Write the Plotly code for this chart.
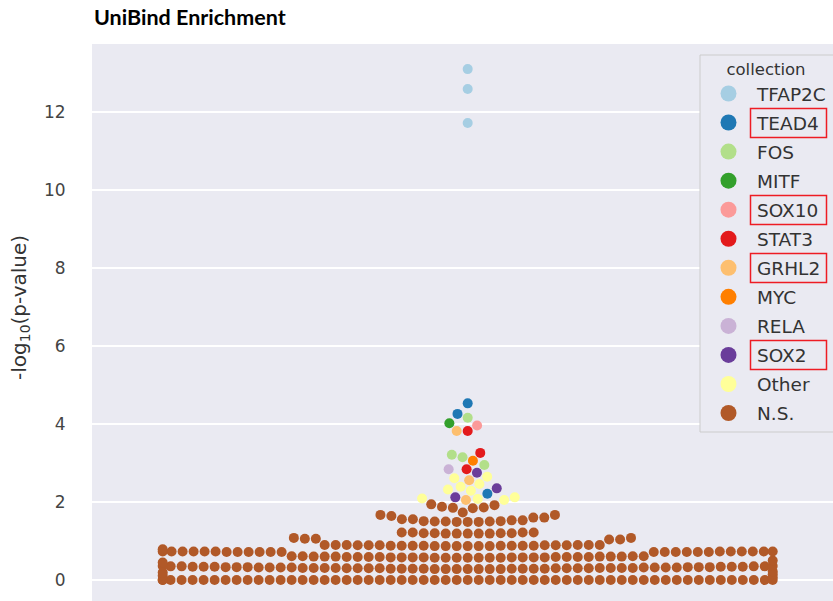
import numpy as np
import plotly.graph_objects as go

# ---- data -----------------------------------------------------------------
collections = ["TFAP2C", "TEAD4", "FOS", "MITF", "SOX10", "STAT3",
               "GRHL2", "MYC", "RELA", "SOX2", "Other", "N.S."]
palette = ["#a6cee3", "#1f78b4", "#b2df8a", "#33a02c", "#fb9a99", "#e31a1c",
           "#fdbf6f", "#ff7f00", "#cab2d6", "#6a3d9a", "#ffff99", "#b15928"]

tfap2c = [13.10, 12.59, 11.72]
tead4 = [4.53, 4.26, 2.21]
fos = [4.16, 3.21, 3.15, 2.95]
mitf = [4.02]
sox10 = [3.96]
stat3 = [3.82, 3.26, 2.84]
grhl2 = [3.82, 2.56, 2.05]
myc = [3.06]
rela = [2.84]
sox2 = [2.75, 2.35, 2.12]
other = [2.65, 2.61, 2.46, 2.39, 2.32, 2.29, 2.12, 2.09, 2.08, 2.05]

# non-significant sets: distinct -log10(p) values and how many sets share each
ns_value = [0.00, 0.07, 0.11, 0.15, 0.19, 0.22,
            0.28, 0.29, 0.30, 0.31, 0.32, 0.33, 0.34, 0.35, 0.36,
            0.45, 0.50,
            0.57, 0.58, 0.59, 0.60, 0.61, 0.72, 0.73, 0.79,
            0.87, 0.88, 0.89, 0.90, 1.04, 1.06, 1.08,
            1.19, 1.20, 1.22,
            1.49, 1.50, 1.51, 1.53, 1.56, 1.60, 1.64, 1.67, 1.73,
            1.84, 1.85, 1.86, 1.88, 1.92, 1.94]
ns_count = [58, 1, 1, 1, 1, 1,
            7, 8, 8, 8, 8, 6, 6, 4, 2,
            1, 1,
            7, 8, 8, 6, 4, 12, 12, 1,
            6, 8, 6, 6, 2, 2, 2,
            5, 4, 4,
            3, 3, 2, 2, 2, 2, 1, 2, 1,
            1, 1, 1, 1, 1, 1]

highlighted = ["TEAD4", "SOX10", "GRHL2", "SOX2"]

series = [tfap2c, tead4, fos, mitf, sox10, stat3, grhl2, myc, rela, sox2, other,
          list(np.repeat(ns_value, ns_count))]

# ---- geometry ------------------------------------------------------------
W, H = 833, 601
ML, MT, MR, MB = 92, 44, 0, 0
PX_PER_UNIT = 39.0          # vertical pixels per -log10 unit
CENTER_PX = 375.7           # category centre, measured from the plot's left edge
PLOT_W = W - ML - MR
PLOT_H = H - MT - MB
Y_MIN = -0.538
Y_MAX = Y_MIN + PLOT_H / PX_PER_UNIT
RADIUS = 5.24               # collision radius of one dot (px)
GUTTER = 305.0              # half width available to the swarm (px)


def beeswarm(y_px, r):
    """Place points (sorted by value) at the free offset closest to the midline."""
    order = np.argsort(y_px, kind="mergesort")
    ys = y_px[order]
    px, py = [], []
    for y in ys:
        nbx, nby = [], []
        for j in range(len(py) - 1, -1, -1):
            if y - py[j] < 2 * r:
                nbx.append(px[j])
                nby.append(py[j])
            else:
                break
        cands = [0.0]
        left_first = True
        for xj, yj in zip(nbx, nby):
            dy = y - yj
            dx = np.sqrt(max((2 * r) ** 2 - dy ** 2, 0.0)) * 1.05
            cands += [xj - dx, xj + dx] if left_first else [xj + dx, xj - dx]
            left_first = not left_first
        cands = np.array(cands)
        cands = cands[np.argsort(np.abs(cands), kind="mergesort")]
        chosen = cands[0]
        if nbx:
            nx, ny = np.array(nbx), np.array(nby)
            for c in cands:
                if np.all((nx - c) ** 2 + (ny - y) ** 2 >= (2 * r) ** 2):
                    chosen = c
                    break
        px.append(chosen)
        py.append(y)
    out = np.empty(len(ys))
    out[order] = px
    return out


values = np.concatenate([np.asarray(s, float) for s in series])
labels = np.concatenate([[name] * len(s) for name, s in zip(collections, series)])
offsets = np.clip(beeswarm(values * PX_PER_UNIT, RADIUS), -GUTTER, GUTTER)

# ---- figure --------------------------------------------------------------
fig = go.Figure()
for name, color in zip(collections, palette):
    m = labels == name
    fig.add_trace(go.Scatter(
        x=offsets[m], y=values[m], mode="markers", name=name,
        marker=dict(size=10, color=color, line=dict(width=0)),
        showlegend=False, hoverinfo="y+name"))

# legend entries with larger symbols
for name, color in zip(collections, palette):
    fig.add_trace(go.Scatter(
        x=[None], y=[None], mode="markers", name=name, legendgroup=name,
        marker=dict(size=16, color=color, line=dict(width=0)), showlegend=True))


def to_paper_x(px):
    return (px - ML) / PLOT_W


def to_paper_y(py):
    return (H - MB - py) / PLOT_H


# legend frame (pixels) and item layout
LEG_LEFT, LEG_TOP, LEG_BOTTOM = 700, 55, 432
ITEM0_Y, ITEM_STEP = 94, 29

shapes = [dict(type="rect", xref="paper", yref="paper",
               x0=to_paper_x(LEG_LEFT), x1=to_paper_x(W + 20),
               y0=to_paper_y(LEG_BOTTOM), y1=to_paper_y(LEG_TOP),
               line=dict(color="#cccccc", width=1), fillcolor="#EAEAF2", layer="above")]
for name in highlighted:
    i = collections.index(name)
    cy = ITEM0_Y + ITEM_STEP * i
    shapes.append(dict(type="rect", xref="paper", yref="paper",
                       x0=to_paper_x(750.5), x1=to_paper_x(826.5),
                       y0=to_paper_y(cy + 14.5), y1=to_paper_y(cy - 14.5),
                       line=dict(color="#ee1c24", width=1.5), fillcolor="rgba(0,0,0,0)",
                       layer="above"))

font = "DejaVu Sans"
fig.update_layout(
    width=W, height=H,
    margin=dict(l=ML, r=MR, t=MT, b=MB),
    paper_bgcolor="white", plot_bgcolor="#EAEAF2",
    font=dict(family=font, color="#333333"),
    xaxis=dict(range=[-CENTER_PX, PLOT_W - CENTER_PX], showgrid=False, zeroline=False,
               showticklabels=False, ticks="", showline=False, fixedrange=True),
    yaxis=dict(range=[Y_MIN, Y_MAX], tickvals=list(range(0, 13, 2)),
               gridcolor="white", gridwidth=1.6, zeroline=False, showline=False,
               ticks="outside", ticklen=22, tickcolor="rgba(0,0,0,0)",
               tickfont=dict(family=font, size=17, color="#444444")),
    legend=dict(x=to_paper_x(LEG_LEFT), y=to_paper_y(LEG_TOP - 1.5), xanchor="left", yanchor="top",
                bgcolor="rgba(0,0,0,0)", borderwidth=0,
                font=dict(family=font, size=18.5, color="#333333"),
                title=dict(text="collection", side="top center",
                           font=dict(family=font, size=16.5, color="#333333")),
                tracegroupgap=2, itemwidth=47),
    shapes=shapes,
    annotations=[
        dict(text="<b>UniBind Enrichment</b>", xref="paper", yref="paper",
             x=to_paper_x(92), y=to_paper_y(17), xanchor="left", yanchor="middle",
             showarrow=False, font=dict(family="Lato", size=21.5, color="#000000")),
        dict(text="-log<sub>10</sub>(p-value)", xref="paper", yref="paper",
             x=to_paper_x(20), y=to_paper_y(308), xanchor="center", yanchor="middle",
             textangle=-90, showarrow=False,
             font=dict(family=font, size=20, color="#333333")),
    ],
)

fig.write_html("out.html")
